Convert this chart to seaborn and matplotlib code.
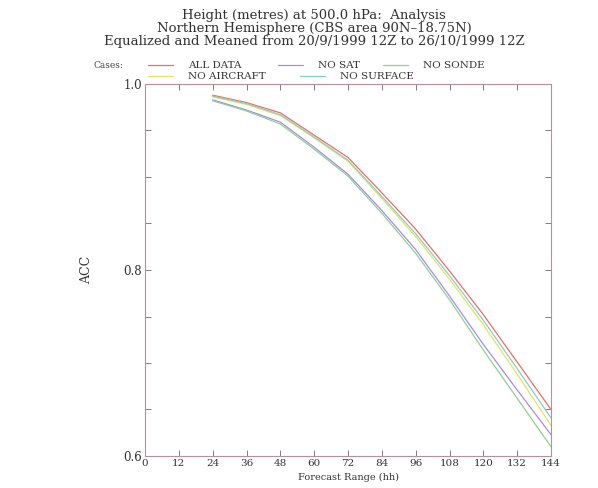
import pandas as pd
import numpy as np
import matplotlib
matplotlib.use('Agg')
import matplotlib.pyplot as plt
from matplotlib.lines import Line2D
from matplotlib.ticker import MultipleLocator
import seaborn as sns

# Forecast range (hh) and ACC values
hours = [24, 36, 48, 60, 72, 84, 96, 108, 120, 132, 144]
all_data = [0.988, 0.980, 0.969, 0.945, 0.921, 0.883, 0.844, 0.799, 0.752, 0.701, 0.650]
no_sat = [0.983, 0.972, 0.959, 0.932, 0.903, 0.864, 0.822, 0.772, 0.720, 0.671, 0.623]
no_sonde = [0.982, 0.971, 0.957, 0.930, 0.901, 0.861, 0.818, 0.768, 0.714, 0.662, 0.610]
no_aircraft = [0.986, 0.978, 0.966, 0.942, 0.917, 0.877, 0.836, 0.790, 0.741, 0.688, 0.633]
no_surface = [0.987, 0.979, 0.967, 0.943, 0.918, 0.879, 0.839, 0.794, 0.746, 0.694, 0.641]

cases = ['ALL DATA', 'NO SAT', 'NO SONDE', 'NO AIRCRAFT', 'NO SURFACE']
colours = ['#f06a6a', '#a88ce0', '#8fd08f', '#e6df6a', '#86cfc4']

x_ticks = list(range(0, 145, 12))
y_ticks = [0.6, 0.8, 1.0]

df = pd.DataFrame({'hh': hours * 5,
                   'acc': all_data + no_sat + no_sonde + no_aircraft + no_surface,
                   'case': sum([[c] * len(hours) for c in cases], [])})

sns.set_style('ticks')
plt.rcParams['font.family'] = ['DejaVu Serif']

fig = plt.figure(figsize=(5.98, 4.88), dpi=100)
ax = fig.add_axes([145 / 598, 1 - 456 / 488, 406 / 598, 372 / 488])

sns.lineplot(data=df, x='hh', y='acc', hue='case', hue_order=cases,
             palette=dict(zip(cases, colours)), linewidth=0.9, legend=False, ax=ax)

ax.set_xlim(0, 144)
ax.set_ylim(0.6, 1.0)
ax.set_xticks(x_ticks)
ax.set_xticklabels([str(t) for t in x_ticks], fontsize=7.5, color='#333333')
ax.set_yticks(y_ticks)
ax.set_yticklabels(['0.6', '0.8', '1.0'], fontsize=8.5, color='#333333')
ax.yaxis.set_minor_locator(MultipleLocator(0.05))
ax.tick_params(which='both', direction='in', top=True, right=True, length=4,
               width=0.7, color='#8a7a80', pad=2)
for s in ax.spines.values():
    s.set_color('#b8909a')
    s.set_linewidth(0.8)
ax.set_xlabel('Forecast Range (hh)', fontsize=7, color='#333333', labelpad=4)
ax.set_ylabel('ACC', fontsize=9, color='#333333', labelpad=22)

# titles
cx = 314 / 598
titles = ['Height (metres) at 500.0 hPa:  Analysis',
          'Northern Hemisphere (CBS area 90N\u201318.75N)',
          'Equalized and Meaned from 20/9/1999 12Z to 26/10/1999 12Z']
for t, ty in zip(titles, [15, 28.5, 42]):
    fig.text(cx, 1 - ty / 488, t, ha='center', va='center', fontsize=9.5, color='#333333')

# legend drawn by hand, like the original
fig.text(93 / 598, 1 - 65 / 488, 'Cases:', ha='left', va='center', fontsize=6.5, color='#444444')
legend_pos = [(148, 65), (278, 65), (383, 65), (148, 76), (300, 76)]
for (lx, ly), c, col in zip(legend_pos, cases, colours):
    yy = 1 - ly / 488
    fig.add_artist(Line2D([lx / 598, (lx + 25) / 598], [yy, yy], color=col, lw=0.9,
                          transform=fig.transFigure))
    fig.text((lx + 40) / 598, yy, c, ha='left', va='center', fontsize=7.5, color='#333333')

fig.savefig('out.png', dpi=100, facecolor='white')
